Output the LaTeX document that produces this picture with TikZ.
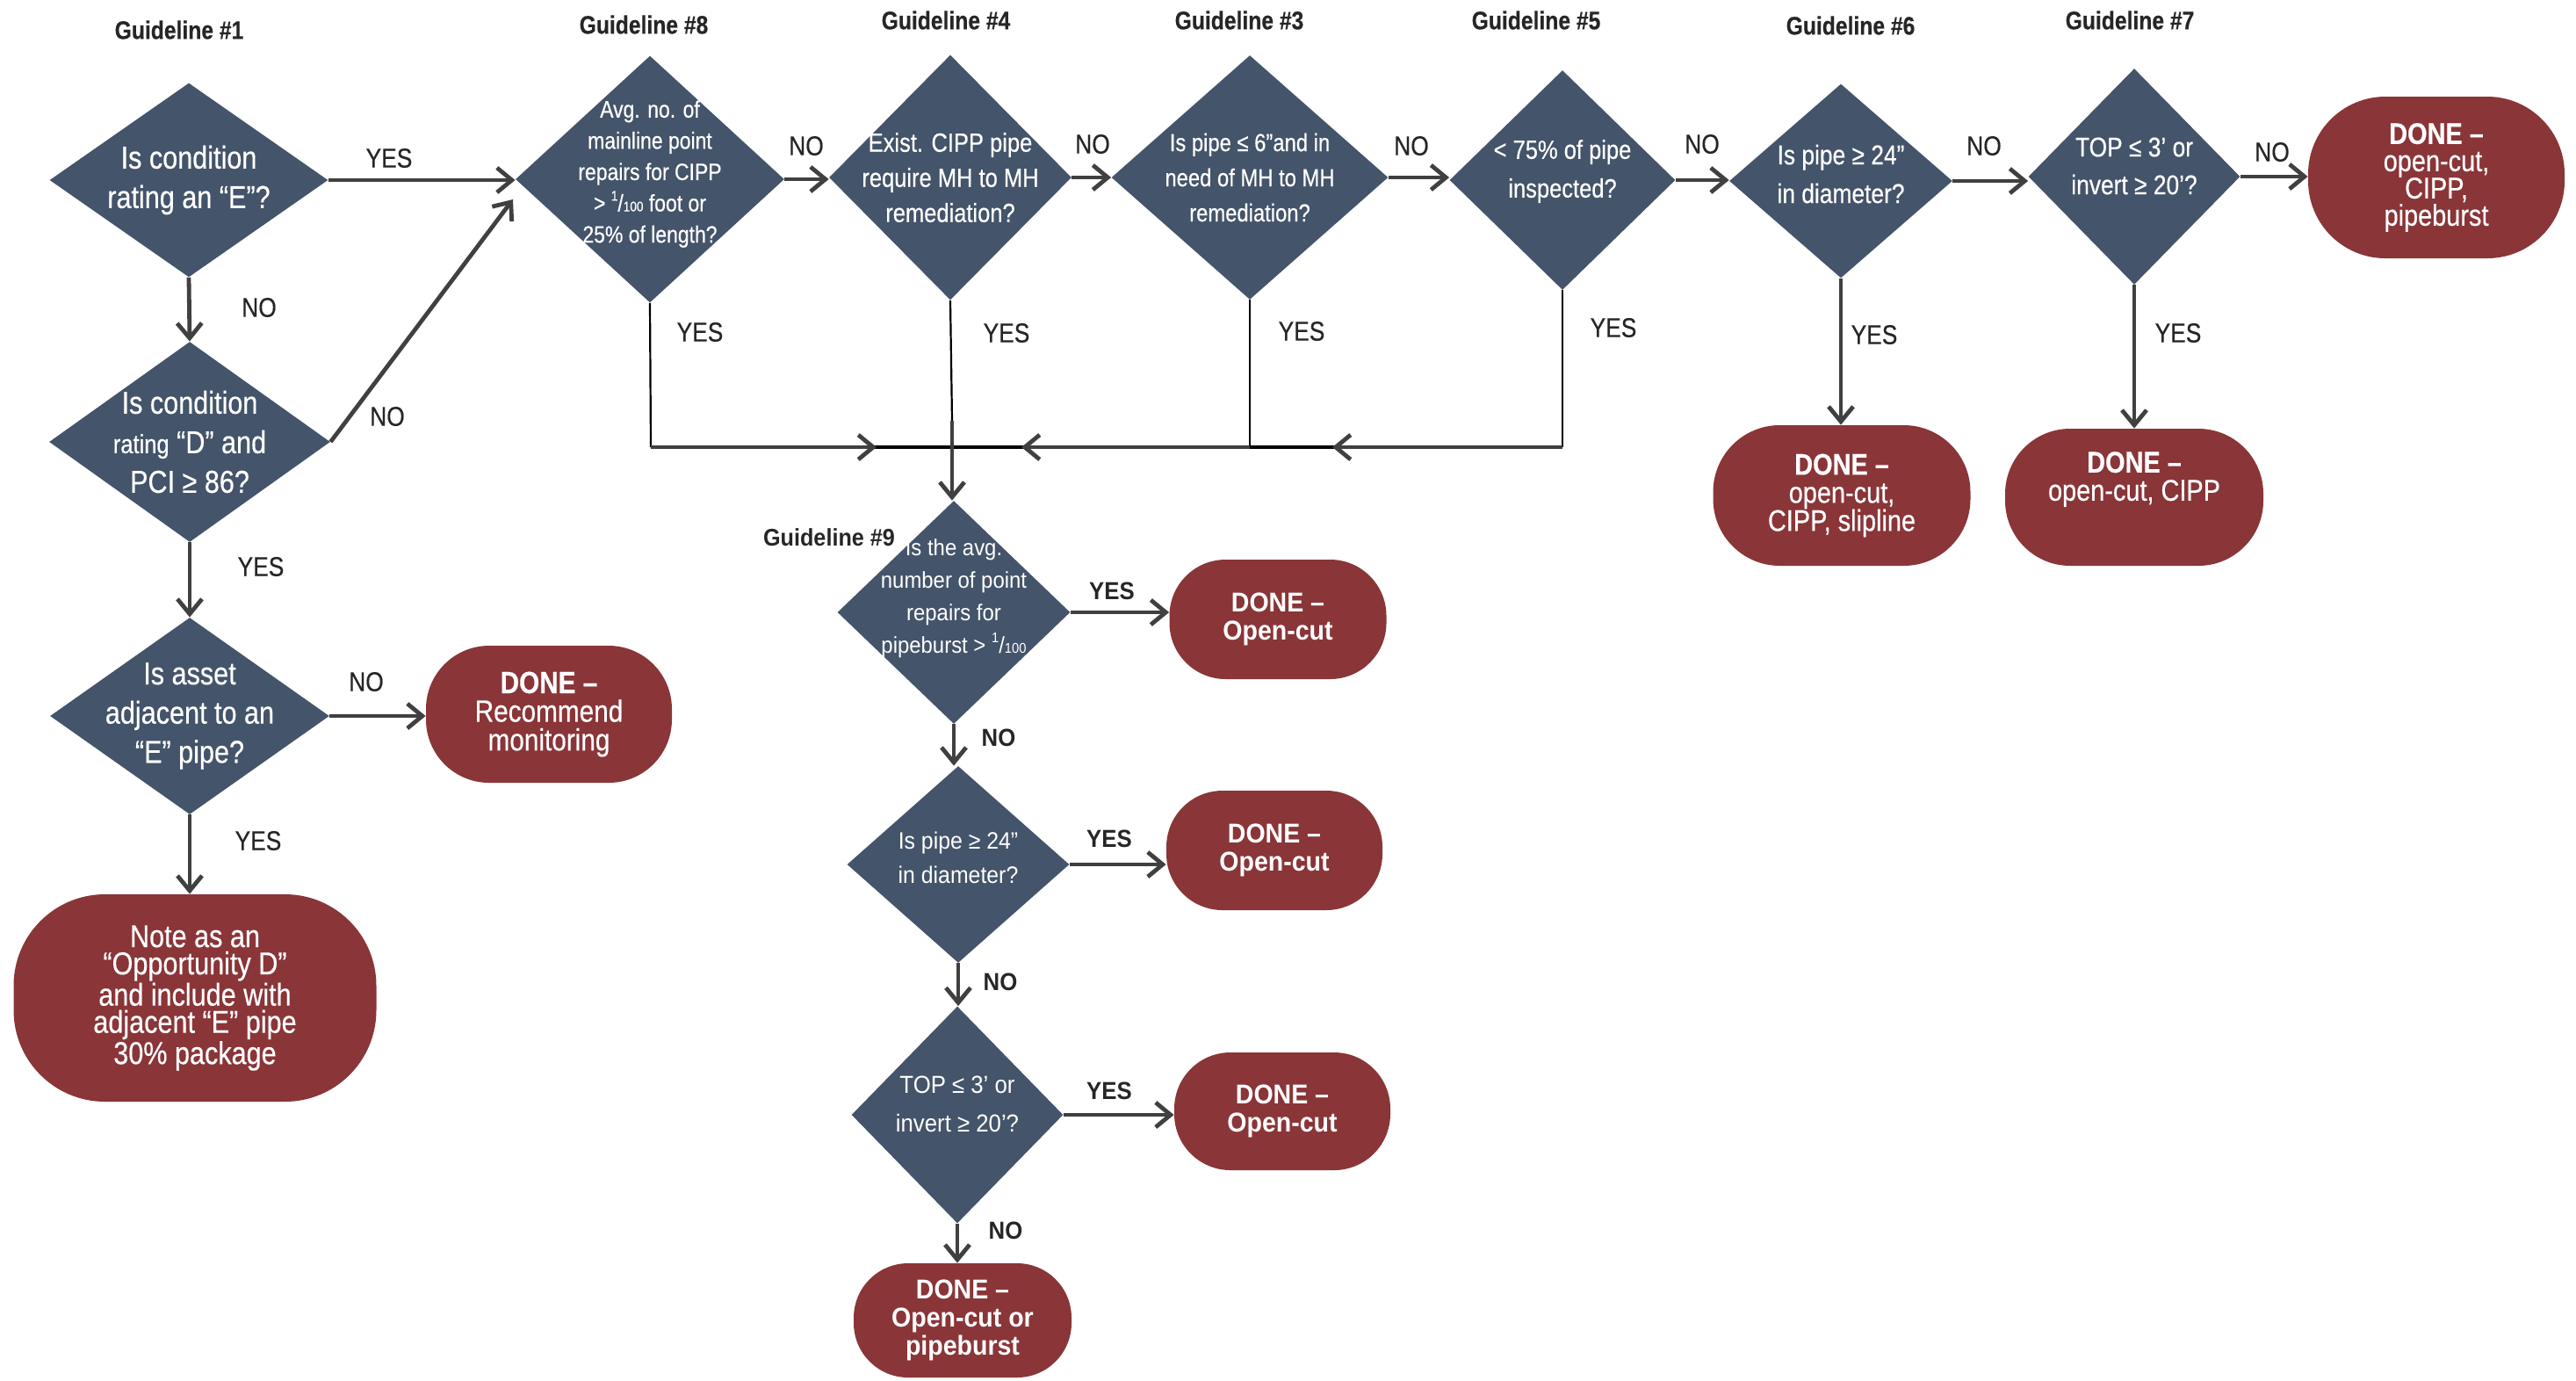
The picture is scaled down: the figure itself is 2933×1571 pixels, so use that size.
\documentclass[tikz,border=0pt]{standalone}
\usepackage{fontspec}
\setmainfont{Liberation Sans}[FakeStretch=0.85, FakeBold=0.4]
\newfontfamily\widefont{Liberation Sans}[FakeStretch=0.92]
\usepackage{tikz}
\usetikzlibrary{shapes.geometric,arrows.meta}
\definecolor{slate}{HTML}{44546A}
\definecolor{brick}{HTML}{8A3538}
\definecolor{wire}{HTML}{404040}
\definecolor{ink}{HTML}{262626}
\newcommand\perhundred{\raisebox{0.45em}{\fontsize{8}{8}\selectfont 1}/{\fontsize{8}{8}\selectfont 100}}
\tikzset{
  ask/.style={diamond, fill=slate, inner sep=0pt},
  asktxt/.style={text=white, align=center, inner sep=0pt},
  done/.style={rectangle, fill=brick, text=white, align=center, inner sep=0pt},
  flow/.style={draw=wire, line width=2.4pt, -{Straight Barb[length=8.5pt,width=14pt]}},
  tie/.style={draw=black, line width=1.1pt},
  yn/.style={text=ink, font=\fontsize{15.5}{18}\selectfont},
  yn9/.style={text=ink, font=\widefont\bfseries\fontsize{14}{16}\selectfont},
  gl/.style={text=ink, font=\bfseries\fontsize{14.5}{16}\selectfont}
}
\begin{document}
\begin{tikzpicture}[x=0.5pt, y=-0.5pt]
  \useasboundingbox (0,0) rectangle (2933,1571);

  % headings
  \node[gl] (g1) at (204,34) {Guideline \#1};
  \node[gl] (g8) at (733,28) {Guideline \#8};
  \node[gl] (g4) at (1077,23) {Guideline \#4};
  \node[gl] (g3) at (1411,23) {Guideline \#3};
  \node[gl] (g5) at (1749,23) {Guideline \#5};
  \node[gl] (g6) at (2107,29) {Guideline \#6};
  \node[gl] (g7) at (2425,23) {Guideline \#7};
  \node[gl, font=\widefont\bfseries\fontsize{13.7}{16}\selectfont] (g9) at (944,612) {Guideline \#9};

  % left column
  \node[ask, minimum width=158.5pt, minimum height=110.5pt] (q1) at (215,205) {};
  \node[asktxt, font=\fontsize{18}{22.5}\selectfont] (q1t) at (q1) {Is condition\\rating an “E”?};
  \node[ask, minimum width=160pt, minimum height=114pt] (q2) at (216,503) {};
  \node[asktxt, font=\fontsize{18}{22.5}\selectfont] (q2t) at (q2) {Is condition\\{\fontsize{15}{22.5}\selectfont rating} “D” and\\PCI ≥ 86?};
  \node[ask, minimum width=159pt, minimum height=112pt] (qa) at (216,815) {};
  \node[asktxt, font=\fontsize{18}{22.3}\selectfont] (qat) at (qa) {Is asset\\adjacent to an\\“E” pipe?};
  \node[done, minimum width=140pt, minimum height=78pt, rounded corners=36pt,
        font=\fontsize{17.5}{16.3}\selectfont] (dmon) at (625,813) {{\bfseries DONE –}\\Recommend\\monitoring};
  \node[done, minimum width=206.5pt, minimum height=118pt, rounded corners=52pt,
        font=\fontsize{18}{15.5}\selectfont] (dnote) at (222,1136) {Note as an\\“Opportunity D”\\and include with\\adjacent “E” pipe\\30\% package};

  % top row
  \node[ask, minimum width=153pt, minimum height=140.5pt] (q8) at (740,204) {};
  \node[asktxt, font=\fontsize{13.5}{17.8}\selectfont] (q8t) at ([yshift=3pt]q8) {Avg. no. of\\mainline point\\repairs for CIPP\\> \perhundred\ foot or\\25\% of length?};
  \node[ask, minimum width=138pt, minimum height=139.5pt] (q4) at (1082,202) {};
  \node[asktxt, font=\fontsize{15}{20}\selectfont] (q4t) at (q4) {Exist. CIPP pipe\\require MH to MH\\remediation?};
  \node[ask, minimum width=157.5pt, minimum height=139pt] (q3) at (1423,202) {};
  \node[asktxt, font=\fontsize{14}{20}\selectfont] (q3t) at (q3) {Is pipe ≤ 6”and in\\need of MH to MH\\remediation?};
  \node[ask, minimum width=128.5pt, minimum height=125pt] (q5) at (1779,205) {};
  \node[asktxt, font=\fontsize{15}{22}\selectfont] (q5t) at ([yshift=5pt]q5) {< 75\% of pipe\\inspected?};
  \node[ask, minimum width=127pt, minimum height=110.5pt] (q6) at (2096,206) {};
  \node[asktxt, font=\fontsize{15.5}{22}\selectfont] (q6t) at ([yshift=4pt]q6) {Is pipe ≥ 24”\\in diameter?};
  \node[ask, minimum width=120.5pt, minimum height=123pt] (q7) at (2430,201) {};
  \node[asktxt, font=\fontsize{15.5}{21.5}\selectfont] (q7t) at ([yshift=6pt]q7) {TOP ≤ 3’ or\\invert ≥ 20’?};
  \node[done, minimum width=146pt, minimum height=92pt, rounded corners=44pt,
        font=\fontsize{17}{15.5}\selectfont] (dall) at (2774,202) {{\bfseries DONE –}\\open-cut,\\CIPP,\\pipeburst};
  \node[done, minimum width=146.5pt, minimum height=80pt, rounded corners=38pt,
        font=\fontsize{17}{16}\selectfont] (d6) at (2097,564) {{\bfseries DONE –}\\open-cut,\\CIPP, slipline};
  \node[done, minimum width=147pt, minimum height=78pt, rounded corners=37pt,
        font=\fontsize{17}{16}\selectfont] (d7) at (2430,566) {{\bfseries DONE –}\\open-cut, CIPP\\[8pt]};

  % guideline 9 column
  \node[ask, minimum width=132.5pt, minimum height=127pt] (q9a) at (1086,697) {};
  \node[asktxt, font=\widefont\fontsize{13}{18.5}\selectfont] (q9at) at ([yshift=8pt]q9a) {Is the avg.\\number of point\\repairs for\\pipeburst > \perhundred};
  \node[ask, minimum width=126.5pt, minimum height=112pt] (q9b) at (1091,984) {};
  \node[asktxt, font=\widefont\fontsize{13.5}{19.5}\selectfont] (q9bt) at ([yshift=4pt]q9b) {Is pipe ≥ 24”\\in diameter?};
  \node[ask, minimum width=120.5pt, minimum height=123.5pt] (q9c) at (1090,1269) {};
  \node[asktxt, font=\widefont\fontsize{14}{22}\selectfont] (q9ct) at ([yshift=6pt]q9c) {TOP ≤ 3’ or\\invert ≥ 20’?};
  \node[done, minimum width=123.5pt, minimum height=68pt, rounded corners=32pt,
        font=\widefont\bfseries\fontsize{15.5}{16}\selectfont] (d9a) at (1455,705) {DONE –\\Open-cut};
  \node[done, minimum width=123pt, minimum height=68pt, rounded corners=32pt,
        font=\widefont\bfseries\fontsize{15.5}{16}\selectfont] (d9b) at (1451,968) {DONE –\\Open-cut};
  \node[done, minimum width=123pt, minimum height=67pt, rounded corners=32pt,
        font=\widefont\bfseries\fontsize{15.5}{16}\selectfont] (d9c) at (1460,1265) {DONE –\\Open-cut};
  \node[done, minimum width=124pt, minimum height=65pt, rounded corners=31pt,
        font=\widefont\bfseries\fontsize{15.5}{16}\selectfont] (d9d) at (1096,1503) {DONE –\\Open-cut or\\pipeburst};

  % joins
  \coordinate (q8in) at (584,227);
  \coordinate (m8) at (741,509);
  \coordinate (m3) at (1423,509);
  \coordinate (m5) at (1779,509);
  \coordinate (a8) at (998,509);
  \coordinate (a3) at (1163,509);
  \coordinate (a5) at (1517,509);
  \coordinate (k4) at (1084,479);

  % connectors
  \draw[flow] (q1.east) -- (q1.east -| q8.west);
  \draw[flow] (q1.south) -- (q2.north);
  \draw[flow] (q2.east) -- (q8in);
  \draw[flow] (q2.south) -- (qa.north);
  \draw[flow] (qa.east) -- (qa.east -| dmon.west);
  \draw[flow] (qa.south) -- (qa.south |- dnote.north);
  \draw[flow] (q8.east) -- (q8.east -| q4.west);
  \draw[flow] (q4.east) -- (q4.east -| q3.west);
  \draw[flow] (q3.east) -- (q3.east -| q5.west);
  \draw[flow] (q5.east) -- (q5.east -| q6.west);
  \draw[flow] (q6.east) -- (q6.east -| q7.west);
  \draw[flow] (q7.east) -- (q7.east -| dall.west);
  \draw[flow] (q6.south) -- (q6.south |- d6.north);
  \draw[flow] (q7.south) -- (q7.south |- d7.north);

  \draw[tie] (q8.south) -- (m8);
  \draw[tie] (q4.south) -- (k4);
  \draw[tie] (q3.south) -- (m3);
  \draw[tie] (q5.south) -- (m5);
  \draw[tie, line width=1.8pt] (m8) -- (m5);
  \draw[flow] (m8) -- (a8);
  \draw[flow] (m3) -- (a3);
  \draw[flow] (m5) -- (a5);
  \draw[flow] (k4) -- (k4 |- q9a.north);

  \draw[flow] (q9a.east) -- (q9a.east -| d9a.west);
  \draw[flow] (q9a.south) -- (q9a.south |- q9b.north);
  \draw[flow] (q9b.east) -- (q9b.east -| d9b.west);
  \draw[flow] (q9b.south) -- (q9b.south |- q9c.north);
  \draw[flow] (q9c.east) -- (q9c.east -| d9c.west);
  \draw[flow] (q9c.south) -- (q9c.south |- d9d.north);

  % answers
  \node[yn] (y1) at (443,180) {YES};
  \node[yn] (n1) at (295,350) {NO};
  \node[yn] (n2) at (441,474) {NO};
  \node[yn] (y2) at (297,645) {YES};
  \node[yn] (na) at (417,776) {NO};
  \node[yn] (ya) at (294,957) {YES};
  \node[yn] (n8) at (918,166) {NO};
  \node[yn] (y8) at (797,378) {YES};
  \node[yn] (n4) at (1244,164) {NO};
  \node[yn] (y4) at (1146,379) {YES};
  \node[yn] (n3) at (1607,166) {NO};
  \node[yn] (y3) at (1482,377) {YES};
  \node[yn] (n5) at (1938,164) {NO};
  \node[yn] (y5) at (1837,373) {YES};
  \node[yn] (n6) at (2259,166) {NO};
  \node[yn] (y6) at (2134,381) {YES};
  \node[yn] (n7) at (2587,173) {NO};
  \node[yn] (y7) at (2480,379) {YES};
  \node[yn9] (y9a) at (1266,673) {YES};
  \node[yn9] (n9a) at (1137,840) {NO};
  \node[yn9] (y9b) at (1263,955) {YES};
  \node[yn9] (n9b) at (1139,1118) {NO};
  \node[yn9] (y9c) at (1263,1242) {YES};
  \node[yn9] (n9c) at (1145,1401) {NO};
\end{tikzpicture}
\end{document}
